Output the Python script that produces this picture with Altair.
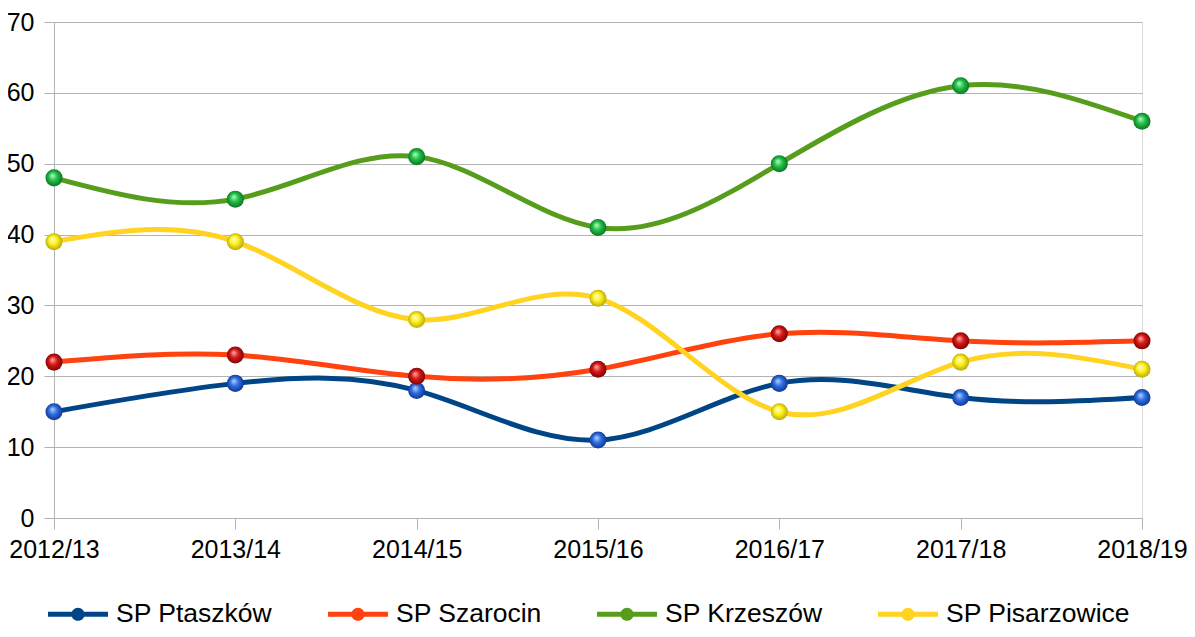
import altair as alt
import pandas as pd

years = ["2012/13", "2013/14", "2014/15", "2015/16", "2016/17", "2017/18", "2018/19"]
series_names = ["SP Ptaszków", "SP Szarocin", "SP Krzeszów", "SP Pisarzowice"]
ptaszkow = [15, 19, 18, 11, 19, 17, 17]
szarocin = [22, 23, 20, 21, 26, 25, 25]
krzeszow = [48, 45, 51, 41, 50, 61, 56]
pisarzowice = [39, 39, 28, 31, 15, 22, 21]
line_colors = ["#004586", "#ff420e", "#579d1c", "#ffd320"]
sphere_stops = [
    ["#b8d4ff", "#2f6fe0", "#0a2f8c"],
    ["#ffb0b0", "#d81818", "#700000"],
    ["#b8ffc8", "#22c048", "#0a6a1e"],
    ["#ffffd8", "#fff020", "#b0a000"],
]

rows = []
for name, vals in zip(series_names, [ptaszkow, szarocin, krzeszow, pisarzowice]):
    for y, v in zip(years, vals):
        rows.append({"year": y, "series": name, "value": v})
df = pd.DataFrame(rows)

FONT = "Liberation Sans"

x_enc = alt.X("year:N", sort=years, scale=alt.Scale(type="point", padding=0),
              axis=alt.Axis(title=None, labelAngle=0, labelFontSize=25, labelFont=FONT,
                            labelColor="#000000", domainColor="#b3b3b3", tickColor="#b3b3b3",
                            tickSize=11, labelPadding=8, grid=False, labelFlush=False))
y_enc = alt.Y("value:Q", scale=alt.Scale(domain=[0, 70], nice=False),
              axis=alt.Axis(title=None, values=list(range(0, 80, 10)), labelFontSize=25,
                            labelFont=FONT, labelColor="#000000", domainColor="#b3b3b3",
                            tickColor="#b3b3b3", tickSize=10, labelPadding=10,
                            gridColor="#b3b3b3", gridWidth=1))

legend_path = ("M-1,-0.085 L1,-0.085 L1,0.085 L-1,0.085 Z "
               "M-0.22,0 A0.22,0.22 0 1,1 0.22,0 A0.22,0.22 0 1,1 -0.22,0 Z")

color_scale = alt.Scale(domain=series_names, range=line_colors)

base_pts = alt.Chart(df).mark_circle(size=200, opacity=1).encode(
    x=x_enc,
    y=y_enc,
    color=alt.Color("series:N", scale=color_scale,
                    legend=alt.Legend(title=None, orient="none", direction="horizontal",
                                      legendX=-6, legendY=562, symbolType=legend_path,
                                      symbolSize=3600, symbolStrokeWidth=0,
                                      symbolOpacity=1, labelLimit=0,
                                      labelFont=FONT, labelFontSize=26.5, labelColor="#000000",
                                      labelOffset=8, columnPadding=55)),
)

lines = alt.Chart(df).mark_line(interpolate="natural", strokeWidth=5).encode(
    x=x_enc,
    y=y_enc,
    color=alt.Color("series:N", scale=color_scale, legend=None),
)

layers = [base_pts, lines]
for name, stops in zip(series_names, sphere_stops):
    grad = alt.Gradient(gradient="radial",
                        stops=[alt.GradientStop(color=stops[0], offset=0),
                               alt.GradientStop(color=stops[1], offset=0.45),
                               alt.GradientStop(color=stops[2], offset=1)],
                        x1=0.4, y1=0.35, r1=0, x2=0.5, y2=0.5, r2=0.55)
    pts = alt.Chart(df).transform_filter(alt.datum.series == name).mark_circle(
        size=290, fill=grad, opacity=1
    ).encode(x=x_enc, y=y_enc)
    layers.append(pts)

chart = alt.layer(*layers).properties(
    width=1088, height=496,
    padding={"left": 46, "top": 14, "right": 45, "bottom": 109},
    autosize=alt.AutoSizeParams(type="none"),
).configure_view(stroke="#b3b3b3", strokeWidth=1).configure(background="white")

chart.save("out.html", embed_options={"renderer": "svg", "actions": False})
